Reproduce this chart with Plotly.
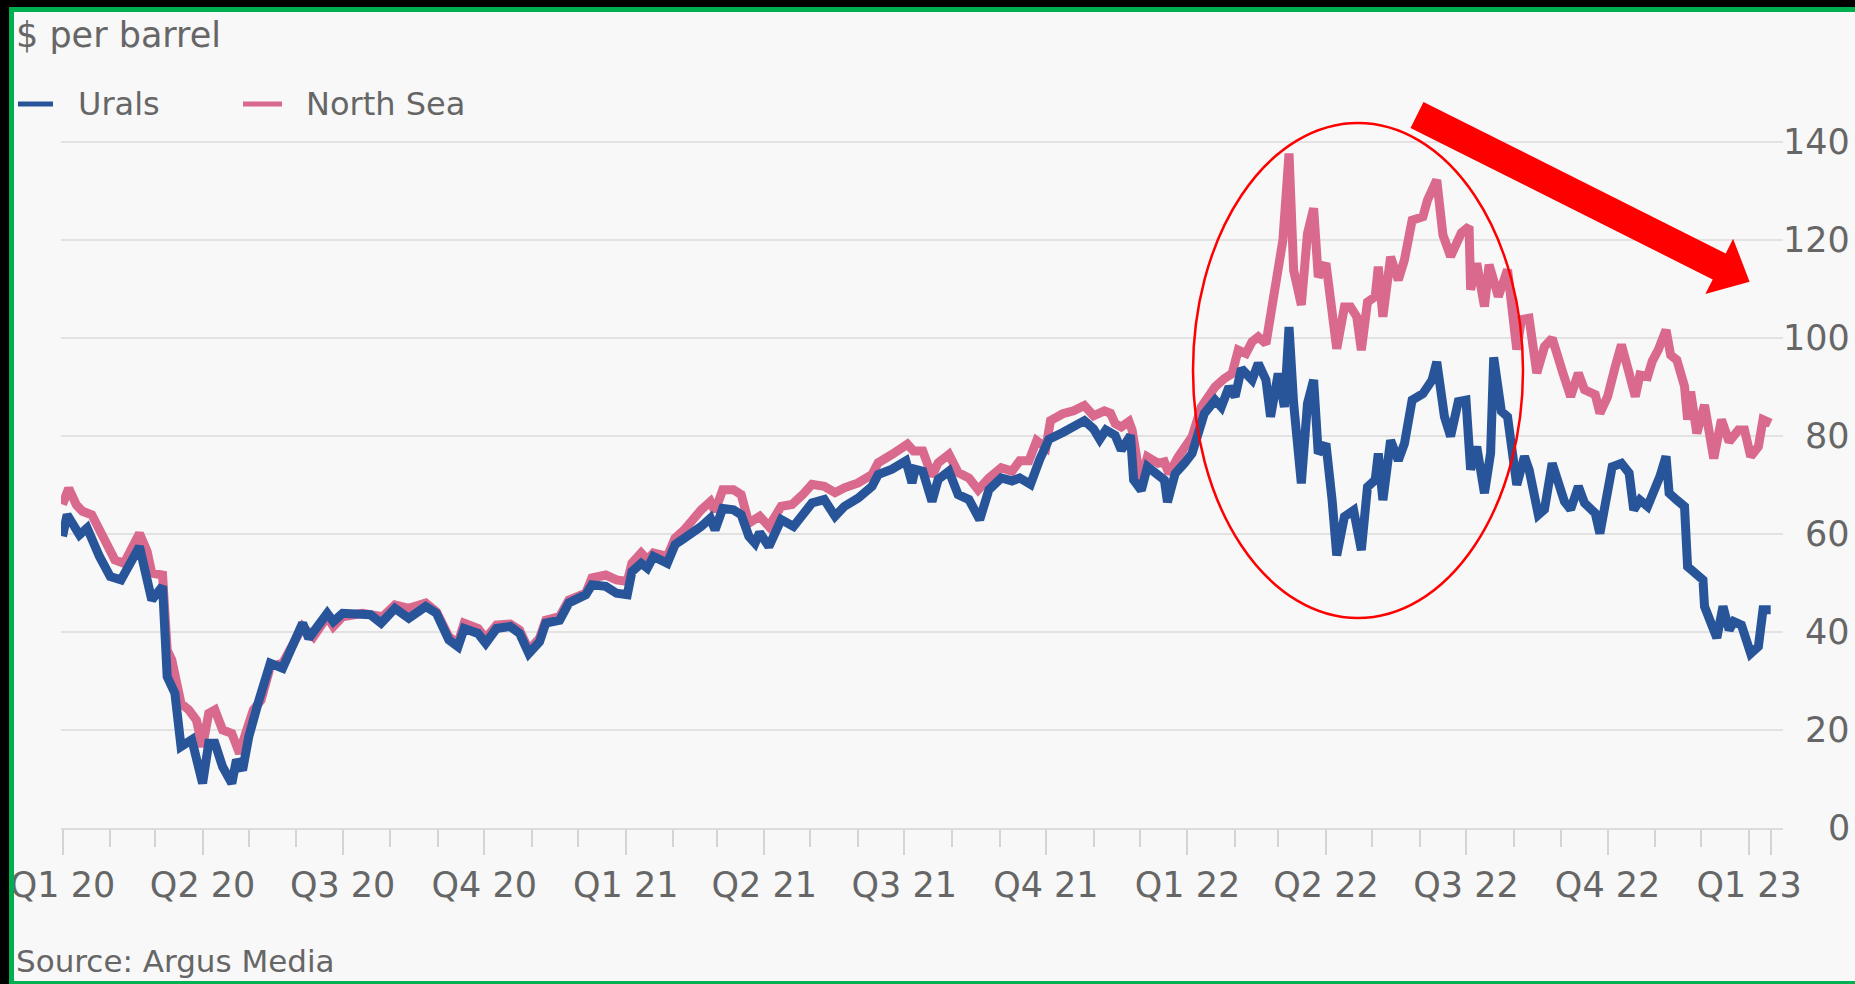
import plotly.graph_objects as go

# ---------------- data ----------------
north_sea_dates = [
    "2020-01-01", "2020-01-05", "2020-01-10", "2020-01-14", "2020-01-20", "2020-01-27",
    "2020-02-04", "2020-02-10", "2020-02-14", "2020-02-20", "2020-02-25", "2020-02-28",
    "2020-03-06", "2020-03-09", "2020-03-12", "2020-03-18", "2020-03-23", "2020-03-28",
    "2020-04-01", "2020-04-05", "2020-04-09", "2020-04-14", "2020-04-20", "2020-04-25",
    "2020-04-29", "2020-05-04", "2020-05-09", "2020-05-15", "2020-05-23", "2020-05-31",
    "2020-06-05", "2020-06-12", "2020-06-21", "2020-06-25", "2020-07-01", "2020-07-14",
    "2020-07-27", "2020-08-04", "2020-08-13", "2020-08-24", "2020-08-31", "2020-09-08",
    "2020-09-14", "2020-09-18", "2020-09-27", "2020-10-02", "2020-10-09", "2020-10-18",
    "2020-10-24", "2020-10-30", "2020-11-06", "2020-11-10", "2020-11-19", "2020-11-25",
    "2020-12-06", "2020-12-10", "2020-12-19", "2020-12-26", "2021-01-02", "2021-01-05",
    "2021-01-11", "2021-01-15", "2021-01-19", "2021-01-28", "2021-02-02", "2021-02-08",
    "2021-02-15", "2021-02-19", "2021-02-25", "2021-02-28", "2021-03-05", "2021-03-12",
    "2021-03-17", "2021-03-22", "2021-03-29", "2021-04-04", "2021-04-12", "2021-04-19",
    "2021-04-26", "2021-05-02", "2021-05-10", "2021-05-17", "2021-05-23", "2021-06-01",
    "2021-06-10", "2021-06-14", "2021-06-23", "2021-07-03", "2021-07-07", "2021-07-13",
    "2021-07-19", "2021-07-23", "2021-07-30", "2021-08-05", "2021-08-12", "2021-08-18",
    "2021-08-25", "2021-09-02", "2021-09-09", "2021-09-14", "2021-09-20", "2021-09-25",
    "2021-10-01", "2021-10-04", "2021-10-12", "2021-10-19", "2021-10-26", "2021-11-01",
    "2021-11-08", "2021-11-12", "2021-11-15", "2021-11-19", "2021-11-24", "2021-11-26",
    "2021-11-30", "2021-12-02", "2021-12-06", "2021-12-13", "2021-12-17", "2021-12-20",
    "2021-12-26", "2021-12-30", "2022-01-04", "2022-01-10", "2022-01-19", "2022-01-25",
    "2022-01-30", "2022-02-03", "2022-02-08", "2022-02-12", "2022-02-16", "2022-02-21",
    "2022-02-25", "2022-03-01", "2022-03-04", "2022-03-08", "2022-03-11", "2022-03-16",
    "2022-03-20", "2022-03-24", "2022-03-27", "2022-04-01", "2022-04-05", "2022-04-08",
    "2022-04-13", "2022-04-17", "2022-04-21", "2022-04-24", "2022-04-28", "2022-05-03",
    "2022-05-05", "2022-05-08", "2022-05-13", "2022-05-18", "2022-05-22", "2022-05-27",
    "2022-06-03", "2022-06-06", "2022-06-12", "2022-06-16", "2022-06-21", "2022-06-28",
    "2022-07-03", "2022-07-04", "2022-07-08", "2022-07-13", "2022-07-16", "2022-07-22",
    "2022-07-28", "2022-08-03", "2022-08-06", "2022-08-11", "2022-08-16", "2022-08-21",
    "2022-08-26", "2022-08-31", "2022-09-02", "2022-09-07", "2022-09-12", "2022-09-16",
    "2022-09-23", "2022-09-26", "2022-10-01", "2022-10-06", "2022-10-10", "2022-10-15",
    "2022-10-19", "2022-10-22", "2022-10-27", "2022-10-30", "2022-11-03", "2022-11-08",
    "2022-11-11", "2022-11-15", "2022-11-20", "2022-11-22", "2022-11-24", "2022-11-28",
    "2022-12-03", "2022-12-09", "2022-12-14", "2022-12-19", "2022-12-25", "2022-12-29",
    "2023-01-02", "2023-01-07", "2023-01-10", "2023-01-15",
]
north_sea_values = [
    66.0, 69.3, 65.9, 64.6, 63.9, 59.5,
    54.7, 54.0, 56.1, 60.1, 56.4, 52.0,
    51.6, 36.3, 34.3, 25.4, 24.1, 22.0,
    16.6, 23.4, 24.1, 20.0, 19.3, 15.2,
    19.3, 24.1, 26.1, 32.9, 33.6, 37.7,
    41.1, 39.0, 43.1, 41.1, 43.1, 43.8,
    43.1, 45.5, 44.8, 45.9, 44.1, 39.0,
    37.7, 41.8, 40.7, 38.7, 41.4, 41.6,
    40.4, 36.3, 38.7, 42.4, 43.1, 46.5,
    47.9, 51.0, 51.6, 50.6, 50.3, 54.0,
    56.1, 54.7, 56.1, 55.4, 59.1, 60.8,
    63.5, 64.9, 66.6, 64.6, 69.0, 69.0,
    68.0, 62.2, 63.6, 61.5, 65.6, 66.0,
    68.0, 70.1, 69.7, 68.4, 69.4, 70.4,
    72.1, 74.5, 76.2, 78.3, 76.9, 76.9,
    71.8, 74.5, 76.2, 72.5, 71.4, 69.0,
    71.4, 73.5, 72.8, 74.9, 74.9, 79.0,
    77.6, 83.1, 84.5, 85.1, 86.2, 84.1,
    85.1, 84.6, 82.5, 81.8, 82.9, 81.2,
    73.7, 71.0, 75.7, 74.4, 74.7, 72.3,
    75.7, 77.8, 79.8, 85.9, 90.0, 91.7,
    92.7, 97.5, 96.8, 99.2, 100.2, 98.8,
    106.3, 114.5, 119.9, 137.6, 113.8, 106.7,
    121.3, 126.4, 112.4, 115.2, 106.3, 97.8,
    106.3, 106.3, 104.3, 97.5, 107.3, 108.4,
    114.5, 104.3, 116.5, 111.8, 115.9, 124.0,
    124.7, 128.1, 132.2, 121.0, 116.6, 121.4,
    122.7, 109.8, 115.2, 106.4, 114.9, 108.4,
    113.9, 97.6, 103.7, 104.0, 92.8, 98.2,
    99.9, 94.1, 92.8, 88.0, 92.8, 89.4,
    88.4, 84.6, 88.0, 94.1, 98.6, 92.8,
    88.0, 92.4, 92.1, 95.2, 97.6, 101.6,
    96.5, 95.5, 90.1, 83.3, 89.0, 80.5,
    86.3, 75.4, 83.3, 78.8, 81.2, 81.2,
    75.8, 77.8, 83.3, 82.6,
]

urals_dates = [
    "2020-01-01", "2020-01-04", "2020-01-12", "2020-01-17", "2020-01-25", "2020-02-01",
    "2020-02-08", "2020-02-20", "2020-02-28", "2020-03-06", "2020-03-09", "2020-03-14",
    "2020-03-18", "2020-03-25", "2020-04-01", "2020-04-05", "2020-04-09", "2020-04-14",
    "2020-04-20", "2020-04-23", "2020-04-27", "2020-05-01", "2020-05-07", "2020-05-15",
    "2020-05-23", "2020-05-31", "2020-06-05", "2020-06-09", "2020-06-21", "2020-06-25",
    "2020-07-01", "2020-07-19", "2020-07-26", "2020-08-04", "2020-08-13", "2020-08-24",
    "2020-08-31", "2020-09-08", "2020-09-14", "2020-09-18", "2020-09-27", "2020-10-02",
    "2020-10-09", "2020-10-18", "2020-10-24", "2020-10-30", "2020-11-06", "2020-11-10",
    "2020-11-19", "2020-11-25", "2020-12-06", "2020-12-10", "2020-12-19", "2020-12-26",
    "2021-01-02", "2021-01-05", "2021-01-11", "2021-01-15", "2021-01-19", "2021-01-28",
    "2021-02-02", "2021-02-08", "2021-02-15", "2021-02-19", "2021-02-25", "2021-02-28",
    "2021-03-05", "2021-03-12", "2021-03-17", "2021-03-22", "2021-03-26", "2021-03-29",
    "2021-04-04", "2021-04-12", "2021-04-20", "2021-04-26", "2021-05-02", "2021-05-10",
    "2021-05-17", "2021-05-23", "2021-06-01", "2021-06-10", "2021-06-14", "2021-06-23",
    "2021-07-02", "2021-07-06", "2021-07-08", "2021-07-13", "2021-07-19", "2021-07-23",
    "2021-07-30", "2021-08-05", "2021-08-12", "2021-08-19", "2021-08-25", "2021-09-02",
    "2021-09-09", "2021-09-14", "2021-09-21", "2021-09-27", "2021-10-03", "2021-10-12",
    "2021-10-19", "2021-10-26", "2021-11-01", "2021-11-05", "2021-11-09", "2021-11-15",
    "2021-11-19", "2021-11-25", "2021-11-27", "2021-12-02", "2021-12-06", "2021-12-13",
    "2021-12-17", "2021-12-19", "2021-12-24", "2021-12-30", "2022-01-04", "2022-01-08",
    "2022-01-12", "2022-01-19", "2022-01-23", "2022-01-28", "2022-02-01", "2022-02-05",
    "2022-02-12", "2022-02-16", "2022-02-21", "2022-02-24", "2022-03-01", "2022-03-05",
    "2022-03-08", "2022-03-11", "2022-03-16", "2022-03-20", "2022-03-24", "2022-03-27",
    "2022-04-01", "2022-04-05", "2022-04-08", "2022-04-13", "2022-04-19", "2022-04-24",
    "2022-04-28", "2022-05-03", "2022-05-05", "2022-05-08", "2022-05-13", "2022-05-18",
    "2022-05-22", "2022-05-27", "2022-06-03", "2022-06-09", "2022-06-12", "2022-06-17",
    "2022-06-21", "2022-06-26", "2022-07-01", "2022-07-04", "2022-07-08", "2022-07-13",
    "2022-07-17", "2022-07-19", "2022-07-24", "2022-07-28", "2022-08-03", "2022-08-08",
    "2022-08-11", "2022-08-17", "2022-08-21", "2022-08-26", "2022-08-31", "2022-09-03",
    "2022-09-07", "2022-09-12", "2022-09-16", "2022-09-23", "2022-09-26", "2022-10-01",
    "2022-10-04", "2022-10-10", "2022-10-15", "2022-10-18", "2022-10-22", "2022-10-27",
    "2022-10-31", "2022-11-04", "2022-11-08", "2022-11-10", "2022-11-15", "2022-11-20",
    "2022-11-22", "2022-11-26", "2022-12-02", "2022-12-03", "2022-12-11", "2022-12-15",
    "2022-12-19", "2022-12-22", "2022-12-27", "2023-01-02", "2023-01-07", "2023-01-10",
    "2023-01-15",
]
urals_values = [
    59.5, 63.9, 59.8, 61.2, 55.4, 51.3,
    50.6, 57.4, 46.5, 49.3, 30.9, 27.5,
    16.6, 18.0, 9.1, 17.3, 17.3, 12.5,
    9.1, 13.9, 11.8, 18.6, 25.4, 33.6,
    32.6, 38.4, 41.8, 38.7, 43.8, 42.1,
    43.8, 43.5, 41.8, 44.8, 42.8, 45.2,
    43.8, 38.4, 37.0, 40.7, 39.7, 37.7,
    40.7, 41.1, 39.7, 35.6, 38.0, 41.8,
    42.4, 45.9, 47.6, 49.6, 49.3, 47.9,
    47.6, 52.3, 54.0, 53.0, 55.4, 54.0,
    57.8, 59.1, 60.5, 61.5, 63.2, 60.8,
    65.2, 64.9, 63.9, 59.5, 58.1, 60.3,
    57.4, 62.9, 61.5, 63.9, 66.3, 67.0,
    63.6, 65.6, 67.3, 69.7, 72.1, 73.2,
    74.9, 70.4, 73.2, 72.8, 66.6, 71.1,
    72.8, 68.0, 67.0, 62.9, 69.0, 71.4,
    70.8, 71.4, 70.1, 75.2, 79.3, 80.7,
    81.7, 83.1, 81.4, 79.3, 81.2, 80.1,
    77.1, 80.1, 71.0, 68.9, 73.7, 72.3,
    71.0, 66.5, 72.3, 74.4, 76.4, 80.5,
    84.6, 87.3, 85.9, 90.0, 88.0, 93.7,
    91.4, 94.8, 91.4, 83.9, 92.7, 85.9,
    102.2, 86.6, 70.3, 86.6, 91.4, 76.4,
    78.4, 66.9, 55.6, 63.5, 64.8, 56.7,
    69.6, 71.0, 76.4, 66.9, 79.1, 75.0,
    78.4, 87.3, 88.6, 91.4, 95.1, 83.9,
    79.9, 87.0, 87.3, 73.1, 77.8, 68.3,
    76.5, 96.0, 85.0, 83.9, 70.0, 75.8,
    73.1, 63.9, 65.0, 74.4, 69.7, 66.6,
    65.0, 69.7, 66.3, 64.2, 60.1, 67.6,
    73.7, 74.4, 72.4, 64.9, 66.9, 65.6,
    68.3, 71.7, 75.8, 68.3, 66.9, 65.6,
    53.3, 52.0, 50.6, 45.2, 38.8, 45.2,
    40.4, 42.1, 41.4, 35.6, 37.0, 44.5,
    44.5,
]

quarter_ticks = [
    "2020-01-01", "2020-04-01", "2020-07-01", "2020-10-01",
    "2021-01-01", "2021-04-01", "2021-07-01", "2021-10-01",
    "2022-01-01", "2022-04-01", "2022-07-01", "2022-10-01",
    "2023-01-01", "2023-01-15",
]
quarter_labels = [
    "Q1 20", "Q2 20", "Q3 20", "Q4 20",
    "Q1 21", "Q2 21", "Q3 21", "Q4 21",
    "Q1 22", "Q2 22", "Q3 22", "Q4 22",
    "Q1 23", "",
]
y_ticks = [0, 20, 40, 60, 80, 100, 120, 140]
series_names = ["Urals", "North Sea"]

# ---------------- layout geometry ----------------
W, H = 1855, 984
ML, MR, MT, MB = 61, 72, 120, 156
PW = W - ML - MR
PH = H - MT - MB
PX_PER_UNIT = 4.902


def px_x(x):
    return (x - ML) / PW


def px_y(y):
    return (H - MB - y) / PH


FONT = "DejaVu Sans"
TXT = "#666666"
URALS_C = "#28559a"
NS_C = "#d96a8d"
LW = 9

fig = go.Figure()
fig.add_trace(go.Scatter(
    x=north_sea_dates, y=north_sea_values, name=series_names[1], mode="lines",
    line=dict(color=NS_C, width=LW), showlegend=False,
))
fig.add_trace(go.Scatter(
    x=urals_dates, y=urals_values, name=series_names[0], mode="lines",
    line=dict(color=URALS_C, width=LW), showlegend=False,
))

shapes = []


def rect(x0, y0, x1, y1, color):
    shapes.append(dict(type="rect", xref="paper", yref="paper",
                       x0=px_x(x0), x1=px_x(x1), y0=px_y(y1), y1=px_y(y0),
                       fillcolor=color, line=dict(width=0), layer="above"))


# screenshot frame
rect(0, 0, W, 7, "black")
rect(0, 0, 9, H, "black")
rect(9, 7, W, 12, "#00b050")
rect(9, 7, 14, H, "#00b050")
rect(9, 981, W, H, "#00b050")

# legend keys (drawn manually to match spacing)
LEG_Y = 104
for (x0, x1), col in zip([(18, 53), (243, 282)], [URALS_C, NS_C]):
    shapes.append(dict(type="line", xref="paper", yref="paper",
                       x0=px_x(x0), x1=px_x(x1), y0=px_y(LEG_Y), y1=px_y(LEG_Y),
                       line=dict(color=col, width=5), layer="above"))

# red ellipse highlight
shapes.append(dict(type="circle", xref="paper", yref="paper",
                   x0=px_x(1193), x1=px_x(1523), y0=px_y(618), y1=px_y(123),
                   line=dict(color="#ff0000", width=2.5), layer="above"))

# red arrow
arrow_px = [(1423.5, 102), (1725.7, 253.4), (1733.1, 238.7), (1749.6, 281.7),
            (1705.3, 294.1), (1712.7, 279.4), (1410.5, 128)]
path = "M " + " L ".join(f"{px_x(a):.5f},{px_y(b):.5f}" for a, b in arrow_px) + " Z"
shapes.append(dict(type="path", xref="paper", yref="paper", path=path,
                   fillcolor="#ff0000", line=dict(width=0), layer="above"))

annotations = [
    dict(text="$ per barrel", x=px_x(14), y=px_y(35), xref="paper", yref="paper",
         xanchor="left", yanchor="middle", showarrow=False,
         font=dict(family=FONT, size=35, color=TXT)),
    dict(text=series_names[0], x=px_x(76), y=px_y(LEG_Y), xref="paper", yref="paper",
         xanchor="left", yanchor="middle", showarrow=False,
         font=dict(family=FONT, size=32, color=TXT)),
    dict(text=series_names[1], x=px_x(304), y=px_y(LEG_Y), xref="paper", yref="paper",
         xanchor="left", yanchor="middle", showarrow=False,
         font=dict(family=FONT, size=32, color=TXT)),
    dict(text="Source: Argus Media", x=px_x(14), y=px_y(961), xref="paper", yref="paper",
         xanchor="left", yanchor="middle", showarrow=False,
         font=dict(family=FONT, size=31, color=TXT)),
]
# right-aligned value-axis labels
for v in y_ticks:
    annotations.append(dict(text=str(v), x=px_x(1852), y=v, xref="paper", yref="y",
                            xanchor="right", yanchor="middle", showarrow=False,
                            font=dict(family=FONT, size=35, color=TXT)))

fig.update_layout(
    width=W, height=H,
    margin=dict(l=ML, r=MR, t=MT, b=MB, autoexpand=False),
    paper_bgcolor="#f8f8f8", plot_bgcolor="#f8f8f8",
    showlegend=False,
    shapes=shapes,
    annotations=annotations,
    xaxis=dict(
        type="date", range=["2019-12-31", "2023-01-23"],
        tickmode="array", tickvals=quarter_ticks, ticktext=quarter_labels,
        ticks="outside", ticklen=25, tickwidth=2, tickcolor="#d4d4d4",
        showline=True, linecolor="#dcdcdc", linewidth=2,
        showgrid=False, zeroline=False,
        tickfont=dict(family=FONT, size=35, color=TXT),
        ticklabelstandoff=0,
        minor=dict(dtick="M1", tick0="2020-01-01", ticks="outside", ticklen=17,
                   tickwidth=2, tickcolor="#d4d4d4", showgrid=False),
    ),
    yaxis=dict(
        side="right", range=[0, PH / PX_PER_UNIT],
        tickmode="array", tickvals=y_ticks, showticklabels=False,
        showgrid=True, gridcolor="#e2e2e2", gridwidth=2,
        zeroline=False, showline=False, ticks="",
    ),
)

fig.write_html(
    "out.html",
    config={"displayModeBar": False},
    post_script="document.body.style.margin='0';document.body.style.overflow='hidden';",
)
